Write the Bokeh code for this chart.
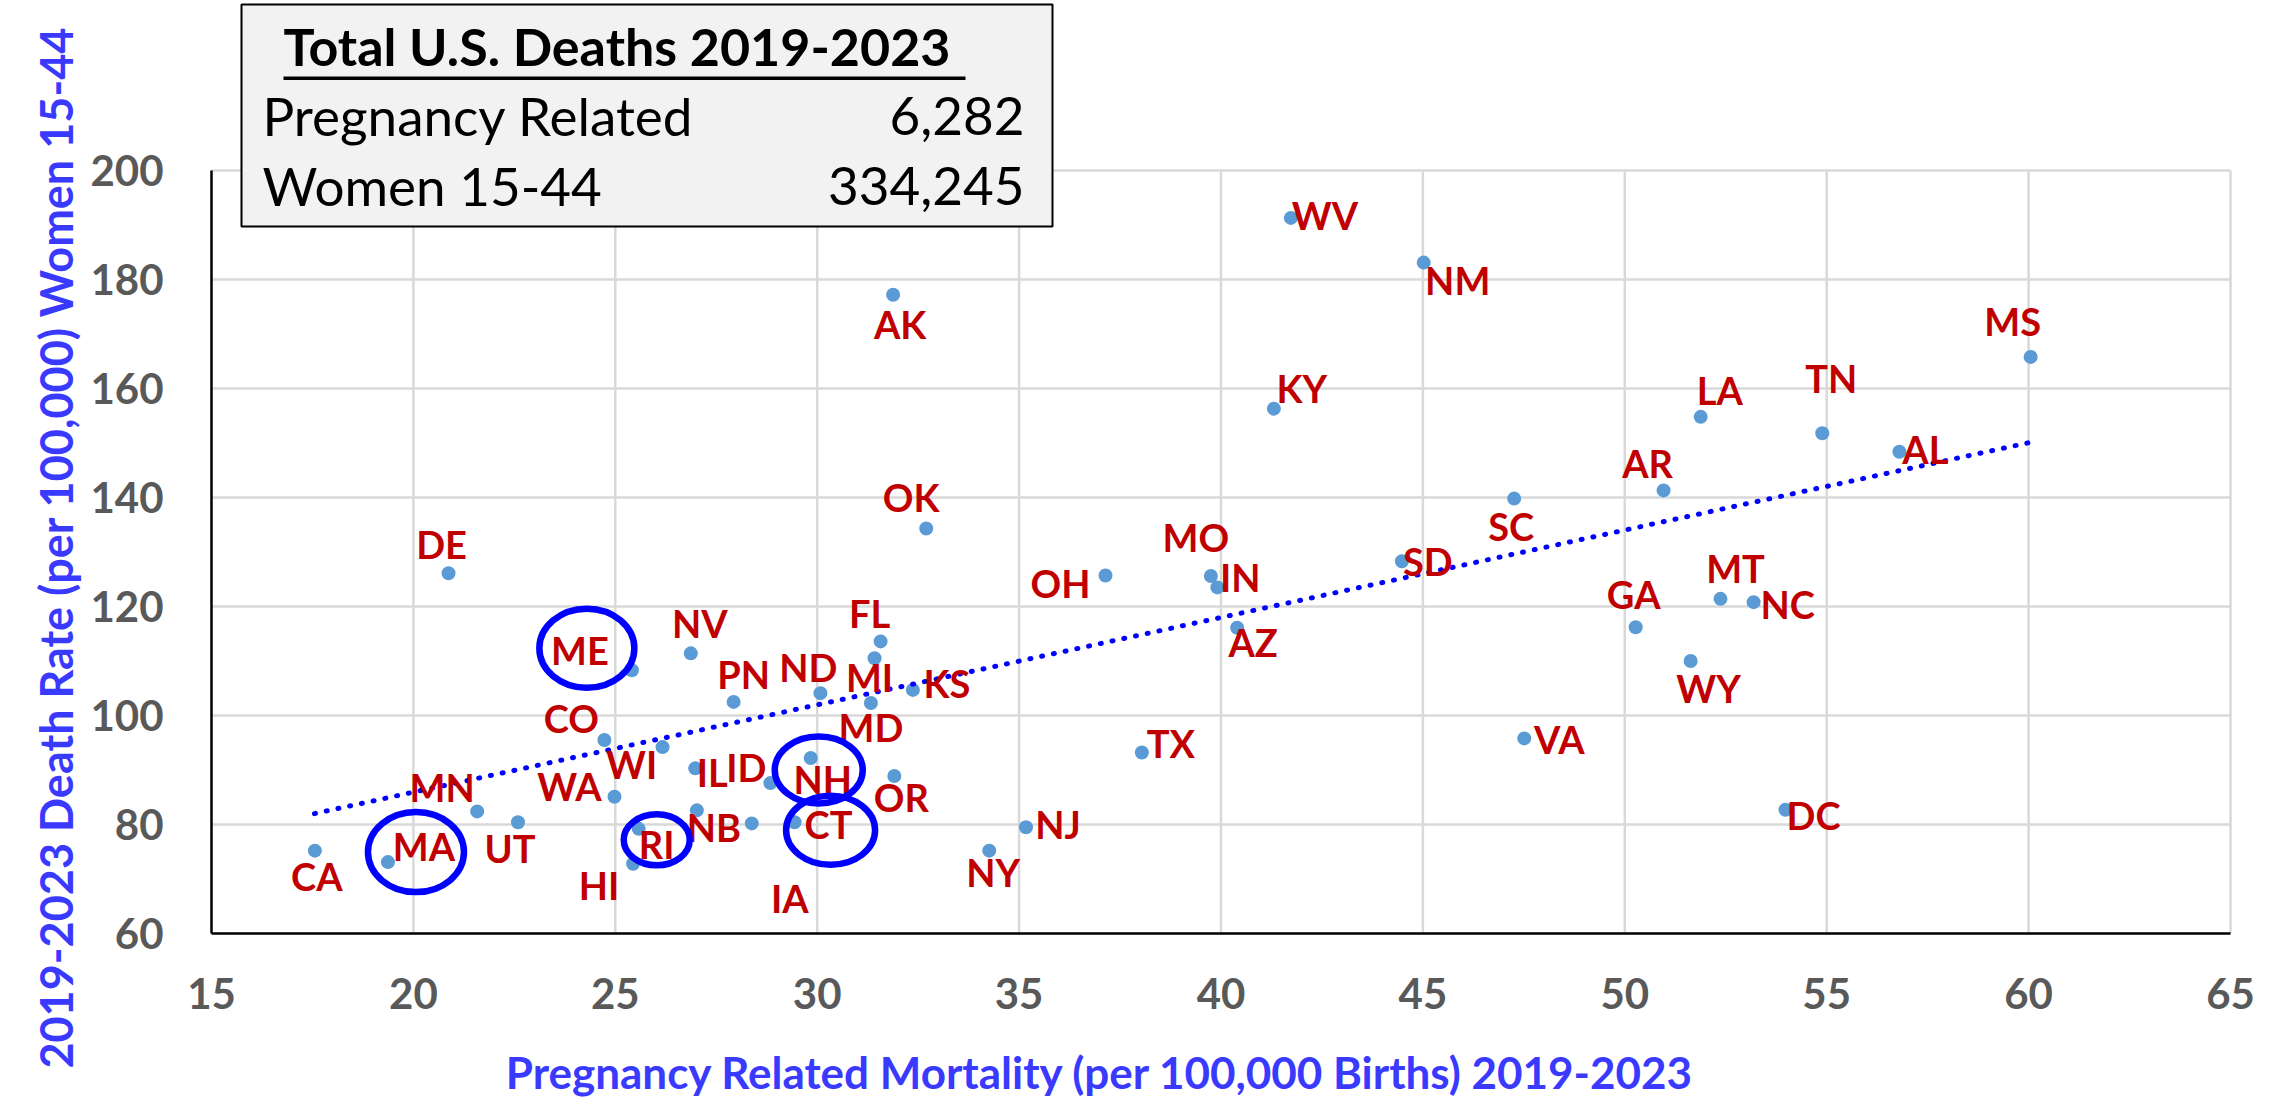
import math
from bokeh.plotting import figure
from bokeh.models import ColumnDataSource, Range1d, FixedTicker, Label, BoxAnnotation
from bokeh.core.properties import value
from bokeh.embed import file_html
from bokeh.resources import INLINE

# ---------------- data ----------------
states = ["CA", "MA", "MN", "UT", "DE", "ME", "CO", "WA", "WI", "HI",
          "RI", "NV", "IL", "NB", "PN", "IA", "ID", "CT", "NH", "ND",
          "MD", "MI", "FL", "KS", "OK", "OR", "AK", "NY", "NJ", "OH",
          "TX", "MO", "IN", "AZ", "KY", "WV", "SD", "NM", "SC", "VA",
          "GA", "AR", "WY", "LA", "MT", "NC", "DC", "TN", "AL", "MS"]
# Pregnancy related mortality (per 100,000 births) 2019-2023
mortality = [17.56, 19.37, 21.58, 22.59, 20.87, 25.41, 24.73, 24.98, 26.17, 25.44,
             25.58, 26.87, 26.98, 27.02, 27.93, 28.38, 28.84, 29.44, 29.84, 30.08,
             31.33, 31.42, 31.57, 32.37, 32.70, 31.91, 31.88, 34.26, 35.17, 37.14,
             38.04, 39.75, 39.91, 40.40, 41.31, 41.73, 44.48, 45.02, 47.26, 47.51,
             50.27, 50.96, 51.63, 51.88, 52.37, 53.19, 53.98, 54.89, 56.80, 60.05]
# 2019-2023 death rate (per 100,000) women 15-44
death_rate = [75.2, 73.1, 82.4, 80.4, 126.1, 108.3, 95.5, 85.1, 94.2, 72.8,
              79.2, 111.4, 90.3, 82.6, 102.5, 80.2, 87.6, 80.4, 92.2, 104.1,
              102.3, 110.5, 113.6, 104.7, 134.3, 88.9, 177.2, 75.2, 79.5, 125.7,
              93.2, 125.6, 123.5, 116.1, 156.3, 191.3, 128.3, 183.1, 139.8, 95.8,
              116.2, 141.3, 110.0, 154.8, 121.4, 120.8, 82.7, 151.8, 148.4, 165.8]

# linear trend line (as drawn)
trend_x = [17.55, 60.03]
trend_y = [82.0, 150.1]

highlighted = ["ME", "MA", "RI", "NH", "CT"]

summary_title = "Total U.S. Deaths 2019-2023"
summary_rows = ["Pregnancy Related", "Women 15-44"]
summary_vals = ["6,282", "334,245"]

x_ticks = [15, 20, 25, 30, 35, 40, 45, 50, 55, 60, 65]
y_ticks = [60, 80, 100, 120, 140, 160, 180, 200]

x_title = "Pregnancy Related Mortality (per 100,000 Births) 2019-2023"
y_title = "2019-2023 Death Rate (per 100,000) Women 15-44"

# ---------------- style: label offsets (screen px) ----------------
label_offsets = {
    "CA": (2, 28), "MA": (36, -13), "MN": (-35, -21), "UT": (-8, 29), "DE": (-7, -26),
    "ME": (-52, -17), "CO": (-33, -19), "WA": (-45, -8), "WI": (-31, 20), "HI": (-34, 24),
    "RI": (18, 18), "NV": (9, -27), "IL": (17, 7), "NB": (17, 20), "PN": (10, -25),
    "IA": (38, 78), "ID": (-24, -13), "CT": (34, 5), "NH": (12, 24), "ND": (-12, -23),
    "MD": (0, 27), "MI": (-5, 22), "FL": (-11, -25), "KS": (34, -4), "OK": (-15, -29),
    "OR": (7, 24), "AK": (7, 32), "NY": (4, 24), "NJ": (32, 0), "OH": (-45, 11),
    "TX": (29, -7), "MO": (-15, -36), "IN": (23, -7), "AZ": (16, 17), "KY": (28, -18),
    "WV": (34, 0), "SD": (26, 3), "NM": (34, 20), "SC": (-3, 30), "VA": (35, 4),
    "GA": (-2, -30), "AR": (-16, -24), "WY": (18, 30), "LA": (19, -24), "MT": (15, -28),
    "NC": (34, 5), "DC": (28, 8), "TN": (9, -52), "AL": (26, 0), "MS": (-18, -33),
}
LABEL_LIFT = 3  # em-box middle vs cap middle
circle_style = {  # offset of ellipse centre from point (px), width, height (px)
    "ME": (-45, -22, 95, 79), "MA": (28, -10, 96, 80), "RI": (18, 11, 66, 51),
    "NH": (8, 12, 88, 67), "CT": (36, 8, 89, 69),
}

# ---------------- geometry (pixels of the picture) ----------------
W, H = 2264, 1100
X_LO, X_HI = 211, 2230      # pixel of x = 15 and x = 65
Y_LO, Y_HI = 933, 170       # pixel of y = 60 and y = 200
XMIN, XMAX = x_ticks[0], x_ticks[-1]
YMIN, YMAX = y_ticks[0], y_ticks[-1]
px_x = (X_HI - X_LO) / (XMAX - XMIN)
px_y = (Y_LO - Y_HI) / (YMAX - YMIN)


def dxp(X):  # picture px -> data x
    return XMIN + (X - X_LO) / px_x


def dyp(Y):  # picture px -> data y
    return YMIN + (Y_LO - Y) / px_y


p = figure(width=W, height=H, x_range=Range1d(dxp(0), dxp(W)), y_range=Range1d(dyp(H), dyp(0)),
           output_backend="svg", toolbar_location=None, title=None,
           min_border_left=0, min_border_right=0, min_border_top=0, min_border_bottom=0)
p.outline_line_color = None
p.background_fill_color = "white"
p.border_fill_color = "white"
p.grid.visible = False

# axes fixed at the plot-area edges
p.xaxis.fixed_location = YMIN
p.yaxis.fixed_location = XMIN
p.xaxis.bounds = (XMIN, XMAX)
p.yaxis.bounds = (YMIN, YMAX)
for ax in (p.xaxis, p.yaxis):
    ax.major_label_text_font = "Lato"
    ax.major_label_text_font_style = "bold"
    ax.major_label_text_font_size = "42px"
    ax.major_label_text_color = "#595959"
    ax.major_tick_line_color = None
    ax.minor_tick_line_color = None
    ax.axis_line_color = "black"
    ax.axis_line_width = 2.5
p.xaxis.ticker = FixedTicker(ticks=x_ticks)
p.yaxis.ticker = FixedTicker(ticks=y_ticks)
p.xaxis.major_label_standoff = 38
p.yaxis.major_label_standoff = 42

# grid lines (limited to the plot area)
p.segment(x0=x_ticks[1:], y0=[YMIN] * (len(x_ticks) - 1), x1=x_ticks[1:], y1=[YMAX] * (len(x_ticks) - 1),
          line_color="#D9D9D9", line_width=2.5, level="underlay")
p.segment(x0=[XMIN] * (len(y_ticks) - 1), y0=y_ticks[1:], x1=[XMAX] * (len(y_ticks) - 1), y1=y_ticks[1:],
          line_color="#D9D9D9", line_width=2.5, level="underlay")

# points
src = ColumnDataSource(dict(
    x=mortality, y=death_rate, st=states,
    ox=[label_offsets[s][0] for s in states],
    oy=[label_offsets[s][1] - LABEL_LIFT for s in states],
))
p.scatter("x", "y", source=src, size=14, fill_color="#5B9BD5", line_color=None)

# trend line
p.line(trend_x, trend_y, line_color="#0000FF", line_width=5, line_dash="1 11", line_cap="round")

# state labels
p.text("x", "y", text="st", x_offset="ox", y_offset="oy", source=src,
       text_font=value("Lato"), text_font_style="bold", text_font_size="38px",
       text_color="#C00000", text_align="center", text_baseline="middle")

# highlight ellipses
idx = {s: i for i, s in enumerate(states)}
cx, cy, cw, ch = [], [], [], []
for s in highlighted:
    i = idx[s]
    ox, oy, w, h = circle_style[s]
    cx.append(mortality[i] + ox / px_x)
    cy.append(death_rate[i] - oy / px_y)
    cw.append(w)
    ch.append(h)
p.ellipse(x=cx, y=cy, width=cw, height=ch, width_units="screen", height_units="screen",
          fill_color=None, line_color="#0000FF", line_width=6.5)

# summary box
p.add_layout(BoxAnnotation(left=dxp(241), right=dxp(1052), top=dyp(4), bottom=dyp(226),
                           fill_color="#F2F2F2", fill_alpha=1.0, line_color="black",
                           line_alpha=1.0, line_width=2))
p.add_layout(Label(x=dxp(283), y=dyp(45), text=summary_title, text_font="Lato",
                   text_font_style="bold", text_font_size="52px", text_color="black",
                   text_align="left", text_baseline="middle"))
p.add_layout(BoxAnnotation(left=dxp(283), right=dxp(965), top=dyp(76), bottom=dyp(79.5),
                           fill_color="black", fill_alpha=1.0, line_color=None))
for k, (row, val) in enumerate(zip(summary_rows, summary_vals)):
    mid = 115 + 70 * k
    p.add_layout(Label(x=dxp(262), y=dyp(mid), text=row, text_font="Lato",
                       text_font_size="53px", text_color="black",
                       text_align="left", text_baseline="middle"))
    p.add_layout(Label(x=dxp(1024), y=dyp(mid), text=val, text_font="Lato",
                       text_font_size="53px", text_color="black",
                       text_align="right", text_baseline="middle"))

# axis titles
p.add_layout(Label(x=dxp(1100), y=dyp(1071), text=x_title, text_font="Lato",
                   text_font_style="bold", text_font_size="44px", text_color="#3A3AFF",
                   text_align="center", text_baseline="middle"))
p.add_layout(Label(x=dxp(55), y=dyp(547), text=y_title, text_font="Lato",
                   text_font_style="bold", text_font_size="45px", text_color="#3A3AFF",
                   text_align="center", text_baseline="alphabetic", angle=math.pi / 2))

open("out.html", "w").write(file_html(p, INLINE))
